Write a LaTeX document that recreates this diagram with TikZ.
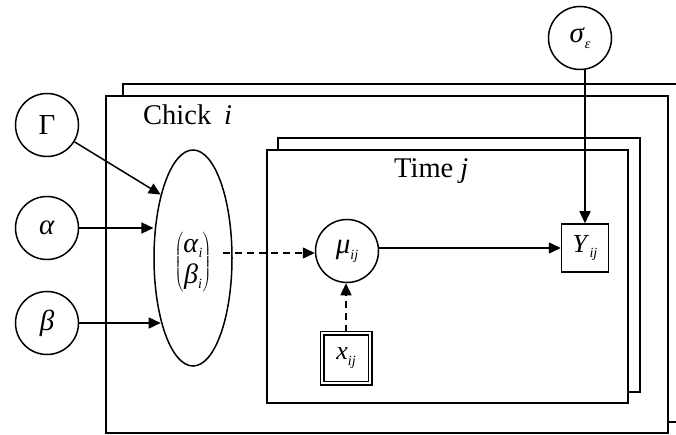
\documentclass[tikz,border=0pt]{standalone}
\usepackage{fontspec}
\setmainfont{Liberation Serif}
\usetikzlibrary{arrows.meta,shapes.geometric}
\newcommand{\sbs}[2]{\textit{#1}\raisebox{-0.45ex}{\fontsize{14}{14}\selectfont\textit{#2}}}
\begin{document}
\begin{tikzpicture}[x=1pt,y=-1pt,
  lw/.style={line width=1.5pt},
  var/.style={lw,draw,circle,minimum size=63pt,inner sep=0pt,font=\fontsize{29}{29}\selectfont},
  obs/.style={lw,draw,rectangle,inner sep=0pt,font=\fontsize{26}{26}\selectfont},
  arr/.style={lw,-{Triangle[length=12pt,width=11pt]}},
  darr/.style={arr,dash pattern=on 7pt off 5pt},
  plate/.style={lw,draw,fill=white},
  lab/.style={anchor=west,inner sep=0pt,font=\fontsize{28.5}{28.5}\selectfont}]
\useasboundingbox (0,0) rectangle (676,435);
\clip (0,0) rectangle (676,435);
% plates
\draw[plate] (123,84) rectangle (700,422);
\draw[plate] (106,96) rectangle (668,433);
\draw[plate] (278,138) rectangle (640,392);
\draw[plate] (267,150) rectangle (628,403);
\node[lab] (chick) at (143,115) {Chick\hspace{0.45em}\textit{i}};
\node[lab] (time) at (394,171) {Time \textit{j}};
% nodes
\node[var] (G) at (47,125) {Γ};
\node[var] (a) at (47,228) {\textit{α}};
\node[var] (b) at (47,323) {\textit{β}};
\node[lw,draw,ellipse,minimum width=78pt,minimum height=216pt,inner sep=0pt] (ab) at (193,258) {};
\node[inner sep=1pt,font=\fontsize{28}{28}\selectfont] (m) at (193,262)
  {$\left(\vcenter{\hbox{\begin{tabular}{@{}c@{}}\sbs{α}{i}\\[3pt]\sbs{β}{i}\end{tabular}}}\right)$};
\coordinate (mR) at (223,253);
\node[var] (mu) at (347,251) {\sbs{μ}{ij}};
\node[obs,minimum width=47pt,minimum height=48pt] (Y) at (585,248) {\sbs{Y}{ij}};
\node[obs,double,double distance=2pt,minimum width=48pt,minimum height=50pt] (x) at (346,358) {\sbs{x}{ij}};
\node[var] (s) at (580,38) {\sbs{σ}{ε}};
% edges
\draw[arr] (G) -- (ab.117);
\draw[arr] (a.east) -- (a.east -| ab.195);
\draw[arr] (b.east) -- (b.east -| ab.243);
\draw[darr] (mR) -- (mu.west |- mR);
\draw[arr] (mu.east |- Y.west) -- (Y.west);
\draw[arr] (s.south -| Y.north) -- (Y.north);
\draw[darr] (x.north) -- (mu.south -| x.north);
\end{tikzpicture}
\end{document}
